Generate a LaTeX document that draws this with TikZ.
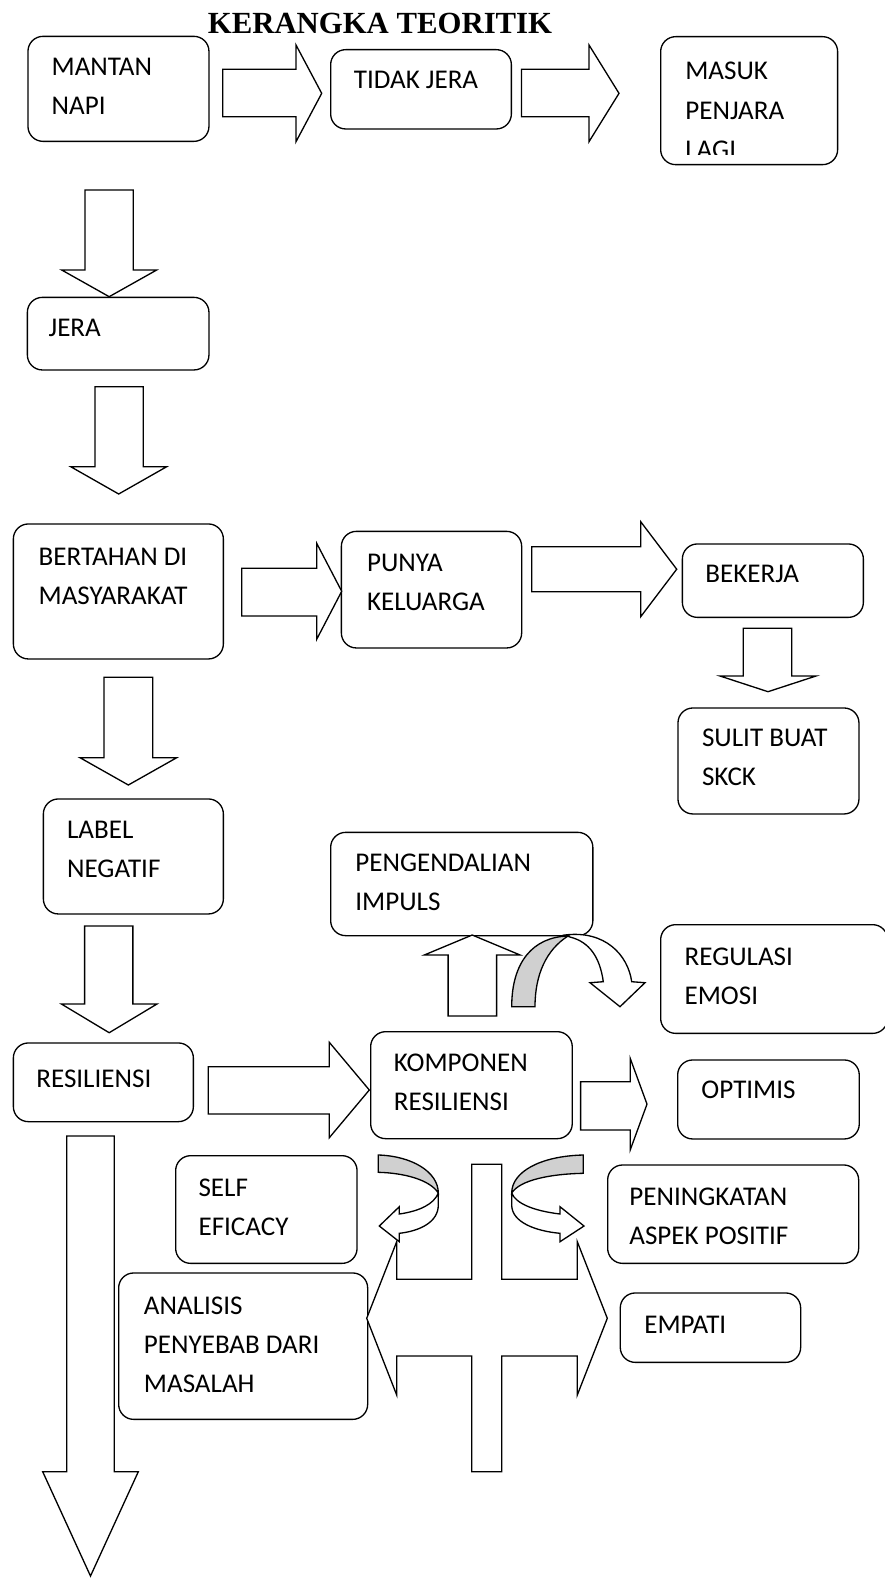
\documentclass[tikz,border=0pt]{standalone}
\usepackage{fontspec}
\setmainfont{Carlito}
\newfontfamily\judulfont{Liberation Serif}
\usetikzlibrary{calc}

\definecolor{curlgray}{RGB}{208,208,208}

\tikzset{
    kotak/.style={draw, line width=0.75pt, rounded corners=0.3cm, inner sep=0pt, anchor=north west},
    teks/.style={inner sep=0pt, anchor=base west, align=flush left, text width=6cm,
        font=\fontsize{15.4}{22.3}\selectfont},
    panah/.style={draw, line width=0.75pt, fill=white, line join=miter},
    lengkung/.style={draw, line width=0.75pt, fill=curlgray},
}

\begin{document}
\begin{tikzpicture}[x=0.02cm, y=-0.02cm]
\useasboundingbox (0,0) rectangle (885,1578);

% === Title ===
\node[inner sep=0pt, anchor=base, font=\judulfont\bfseries\fontsize{17.5}{20}\selectfont] (judul) at (380,34) {KERANGKA TEORITIK};

% === Boxes: name / left / top / right / bottom / baseline / indent / text ===
\foreach \nama/\xa/\ya/\xb/\yb/\bl/\dx/\isi in {
    mantan/27.3/35.7/208.3/140.7/40/24/{MANTAN\\NAPI},
    tidak/330/49/510.7/128.3/39.3/23.5/{TIDAK JERA},
    jera/26.7/296.7/208.3/369.3/40/21.6/{JERA},
    bertahan/12.7/523.3/222.7/658.3/41.7/25.6/{BERTAHAN DI\\MASYARAKAT},
    punya/340.7/530.7/521/647.3/41/26/{PUNYA\\KELUARGA},
    bekerja/681.7/543.3/862.7/616.7/39.4/23.3/{BEKERJA},
    sulit/677.3/707.3/858.3/813.3/39.4/24.4/{SULIT BUAT\\SKCK},
    label/42.7/798.3/222.7/913.3/40/24/{LABEL\\NEGATIF},
    pengendalian/330/831.7/592.2/935/39.3/25/{PENGENDALIAN\\IMPULS},
    regulasi/660/924/887/1032.7/41/24.3/{REGULASI\\EMOSI},
    resiliensi/12.7/1042.3/192.7/1121/45/23.3/{RESILIENSI},
    komponen/370/1031/571.6/1138/40.7/23.5/{KOMPONEN\\RESILIENSI},
    optimis/677/1059.3/858.6/1138.3/39/24.1/{OPTIMIS},
    self/175/1155/356.4/1262.7/41/23.2/{SELF\\EFICACY},
    peningkatan/607/1164.3/858/1262.7/41.2/22/{PENINGKATAN\\ASPEK POSITIF},
    analisis/118/1272.3/367/1418.7/42/25.6/{ANALISIS\\PENYEBAB DARI\\MASALAH},
    empati/619.6/1292.3/800/1361.7/40.7/24.4/{EMPATI}} {
    \pgfmathsetmacro{\w}{(\xb-\xa)*0.02}
    \pgfmathsetmacro{\h}{(\yb-\ya)*0.02}
    \node[kotak, minimum width=\w cm, minimum height=\h cm] (\nama) at (\xa,\ya) {};
    \node[teks] (\nama-t) at ($(\nama.north west)+(\dx,\bl)$) {\isi};
}

% MASUK PENJARA LAGI: last line cut off by the box
\node[kotak, minimum width=3.54cm, minimum height=2.56cm] (masuk) at (660,36) {};
\begin{scope}
    \clip (masuk.north west) rectangle ([yshift=0.21cm]masuk.south east);
    \node[teks] (masuk-t) at ($(masuk.north west)+(25,44)$) {MASUK\\PENJARA\\LAGI};
\end{scope}

% === Right block arrows: tail / head / tip / shaft top / shaft bottom / head top / head bottom ===
\foreach \xa/\xb/\xc/\sa/\sb/\ha/\hb in {
    222.7/296/321.7/69.3/116.7/45/141.7,
    521.5/589/619/69.3/116.7/45/141.7,
    241.7/316.7/341.7/568.3/616/543.3/639.3,
    531.7/640.7/676.7/546.7/591.7/521.7/616.7,
    208.3/329.3/369.3/1066.7/1114/1042.3/1137.7,
    580.6/630.2/647/1081.7/1130/1058.3/1150} {
    \draw[panah] (\xa,\sa) -- (\xb,\sa) -- (\xb,\ha) -- (\xc,{(\ha+\hb)/2})
        -- (\xb,\hb) -- (\xb,\sb) -- (\xa,\sb) -- cycle;
}

% === Down (and up) block arrows: tail / head / tip / shaft left / shaft right / head left / head right ===
\foreach \ya/\yb/\yc/\sa/\sb/\ha/\hb in {
    190/270/296.7/85/133.3/61.7/156.7,
    386.7/466.7/494/95/143.3/70.7/166.7,
    677.3/757.7/785/104/152.7/80/176.7,
    628.3/676/691.7/743.3/791.7/720/816,
    926/1004/1032.7/84.6/132.9/61.4/157,
    1136/1471.7/1576/66.7/114.3/42.7/138.3,
    1016/955/935/448.1/496.6/424.3/520.1} {
    \draw[panah] (\sa,\ya) -- (\sa,\yb) -- (\ha,\yb) -- ({(\ha+\hb)/2},\yc)
        -- (\hb,\yb) -- (\sb,\yb) -- (\sb,\ya) -- cycle;
}

% === Curved arrow towards REGULASI EMOSI ===
\draw[panah] (565,935) .. controls (605,930) and (628,955) .. (631.7,981.7)
    -- (645,982.7) -- (620,1006.7) -- (590,982.7) -- (603.3,981.7)
    .. controls (600,958) and (590,942) .. (570,937) -- cycle;
\draw[lengkung] (511.7,1006.7) .. controls (511.7,962) and (533,937) .. (568,936)
    .. controls (546,950) and (535,975) .. (535,1006.7) -- cycle;

% === Cross arrow (left / right) ===
\draw[panah] (471.7,1164.3) -- (501.7,1164.3) -- (501.7,1279.3) -- (577.3,1279.3)
    -- (577.3,1241.7) -- (607.3,1318.3) -- (577.3,1395) -- (577.3,1356)
    -- (501.7,1356) -- (501.7,1471.7) -- (471.7,1471.7) -- (471.7,1356)
    -- (396.7,1356) -- (396.7,1395) -- (366.7,1318.3) -- (396.7,1241.7)
    -- (396.7,1279.3) -- (471.7,1279.3) -- cycle;

% === Curled arrows beside the cross ===
% left curl
\draw[panah] (438.3,1193) -- (438.3,1205) .. controls (438.3,1222) and (420,1231) .. (399.3,1233.3)
    -- (399.3,1241.7) -- (379.3,1226) -- (399.3,1206.7) -- (399.3,1214)
    .. controls (420,1211) and (434,1204) .. (438.3,1193) -- cycle;
\draw[lengkung] (378.3,1155) .. controls (412,1156) and (438.3,1172) .. (438.3,1193)
    .. controls (430,1180) and (405,1173) .. (378.3,1172.3) -- cycle;
% right curl
\draw[panah] (511.7,1193) -- (511.7,1205) .. controls (511.7,1222) and (535,1231) .. (560,1233.3)
    -- (560,1241.7) -- (584,1226) -- (560,1206.7) -- (560,1214)
    .. controls (535,1211) and (516,1204) .. (511.7,1193) -- cycle;
\draw[lengkung] (583.3,1155) .. controls (540,1156) and (511.7,1172) .. (511.7,1193)
    .. controls (520,1180) and (550,1174) .. (583.3,1173.3) -- cycle;

\end{tikzpicture}
\end{document}
